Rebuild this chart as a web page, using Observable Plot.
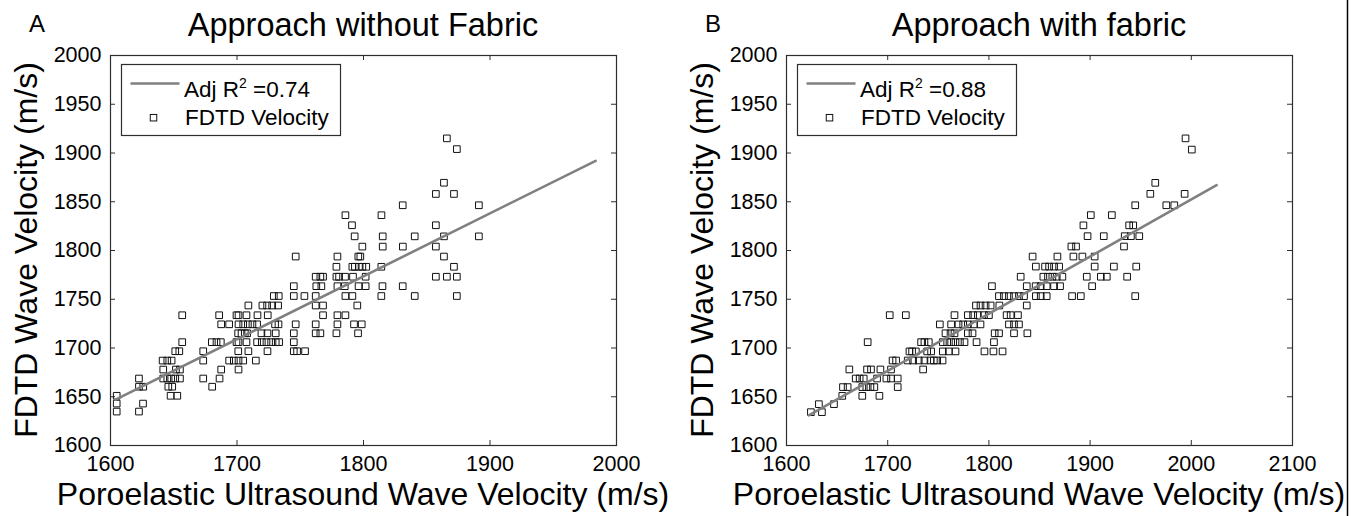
<!DOCTYPE html>
<html><head><meta charset="utf-8">
<script src="https://cdn.jsdelivr.net/npm/d3@7"></script>
<script src="https://cdn.jsdelivr.net/npm/@observablehq/plot@0.6"></script>
<style>
body{margin:0;background:#fff}
#fig{position:relative;width:1368px;height:516px;overflow:hidden;background:#fff}
#fig svg{position:absolute;top:0}
</style></head><body><div id="fig"></div>
<script>
// ---------- data ----------
const yTicks = [1600, 1650, 1700, 1750, 1800, 1850, 1900, 1950, 2000];
const xTicksA = [1600, 1700, 1800, 1900, 2000];
const xTicksB = [1600, 1700, 1800, 1900, 2000, 2100];
const xDomainA = [1600, 2000];
const xDomainB = [1600, 2100];

// Panel A: FDTD velocity rows (y) and the ultrasound velocities (x) in each row
const aRowY = [1915, 1904, 1869.5, 1858, 1846.4, 1836.2, 1825.9, 1814.5, 1804, 1793.8, 1783.3, 1773.1, 1763.4, 1753.3, 1743.6, 1733.6, 1724.3, 1715.1, 1706, 1696.7, 1687.1, 1677.9, 1668.7, 1660.3, 1651, 1643, 1634.8];
const aRowX = [
  [1865.9],
  [1873.8],
  [1863.6],
  [1857.2, 1871.5],
  [1831.0, 1891.2],
  [1785.7, 1814.2],
  [1790.9, 1857.2],
  [1793.0, 1815.2, 1840.5, 1863.6, 1891.2],
  [1799.1, 1815.2, 1831.1, 1857.2],
  [1746.4, 1779.4, 1795.9, 1797.5, 1863.6],
  [1778.6, 1791.2, 1793.2, 1796.4, 1799.1, 1802.2, 1814.1, 1871.5],
  [1762.2, 1765.9, 1768.0, 1778.6, 1780.7, 1785.4, 1791.7, 1801.7, 1857.2, 1865.9, 1873.8],
  [1744.9, 1762.7, 1766.7, 1779.4, 1785.2, 1796.1, 1801.7, 1815.0, 1831.0],
  [1729.1, 1733.0, 1744.9, 1753.3, 1762.2, 1785.7, 1791.2, 1814.1, 1840.5, 1873.8],
  [1709.0, 1720.1, 1723.8, 1727.8, 1732.5, 1762.2, 1768.0, 1795.1],
  [1656.7, 1685.9, 1699.6, 1701.2, 1707.5, 1716.2, 1724.3, 1768.0, 1779.4, 1785.7],
  [1687.5, 1693.8, 1701.2, 1704.9, 1708.6, 1712.2, 1715.9, 1730.1, 1732.8, 1746.4, 1762.2, 1779.4, 1792.5, 1798.6],
  [1700.9, 1703.6, 1706.2, 1708.0, 1719.3, 1724.1, 1730.6, 1744.9, 1762.2, 1765.9, 1778.6, 1795.7],
  [1656.7, 1680.1, 1683.8, 1687.2, 1699.6, 1701.2, 1707.5, 1715.9, 1719.6, 1723.3, 1727.0, 1730.6, 1733.3, 1744.9],
  [1651.2, 1654.4, 1673.3, 1701.0, 1709.0, 1724.1, 1744.9, 1747.5, 1753.8],
  [1641.2, 1644.9, 1648.3, 1673.3, 1693.8, 1697.5, 1701.2, 1704.9, 1714.9],
  [1641.7, 1651.7, 1654.9, 1687.5, 1701.2],
  [1622.5, 1641.7, 1644.9, 1648.0, 1651.2, 1654.9, 1673.3, 1686.2],
  [1622.5, 1625.9, 1645.7, 1648.8, 1680.4],
  [1604.9, 1647.5, 1652.8],
  [1604.9, 1625.7],
  [1604.9, 1622.5]
];
const aFitX = [1604, 1983.5];
const aFitY = [1647, 1892];

// Panel B
const bRowY = [1915, 1903.5, 1869.4, 1858.1, 1846.4, 1836.3, 1825.8, 1814.7, 1804.1, 1793.8, 1783.5, 1773.1, 1763.4, 1753.2, 1743.6, 1733.7, 1724.2, 1715.1, 1706, 1696.5, 1687.2, 1678, 1668.7, 1659.9, 1650.9, 1642.4, 1634.2];
const bRowX = [
  [1994.3],
  [2000.5],
  [1964.4],
  [1959.5, 1993.4],
  [1944.6, 1975.3, 1983.2],
  [1900.7, 1921.5],
  [1893.4, 1938.6, 1942.6],
  [1897.5, 1913.5, 1934.2, 1940.3, 1948.6],
  [1881.5, 1886.1, 1933.5],
  [1843.2, 1867.7, 1883.5, 1892.4, 1904.5],
  [1846.4, 1855.5, 1859.5, 1864.4, 1869.4, 1904.5, 1923.5, 1945.6],
  [1831.4, 1853.8, 1858.4, 1862.7, 1867.0, 1872.6, 1896.7, 1910.6, 1916.5, 1936.6],
  [1803.0, 1837.4, 1846.2, 1851.2, 1857.1, 1864.4, 1870.3, 1902.0],
  [1809.9, 1814.9, 1819.8, 1824.8, 1829.7, 1834.7, 1846.4, 1851.2, 1857.1, 1882.2, 1890.8, 1944.6],
  [1787.2, 1791.7, 1796.7, 1801.7, 1810.3, 1837.4],
  [1702.0, 1717.9, 1766.0, 1779.2, 1784.4, 1789.1, 1795.1, 1800.0, 1817.5, 1821.5, 1828.7],
  [1751.5, 1762.7, 1770.0, 1774.6, 1779.2, 1785.2, 1791.7, 1819.8, 1824.8, 1829.7],
  [1757.1, 1762.1, 1766.0, 1779.2, 1783.8, 1805.7, 1810.0, 1824.8, 1838.0],
  [1680.2, 1733.0, 1736.3, 1740.6, 1754.5, 1758.8, 1762.7, 1767.0, 1771.3, 1775.9, 1787.8, 1805.0],
  [1721.5, 1724.1, 1727.8, 1739.0, 1742.9, 1754.5, 1760.4, 1767.0, 1795.6, 1804.5, 1813.5],
  [1704.8, 1708.3, 1719.8, 1725.1, 1730.7, 1736.3, 1742.3, 1745.6, 1748.9, 1754.2],
  [1662.1, 1679.6, 1683.5, 1692.8, 1703.3, 1735.0],
  [1668.4, 1672.3, 1676.3, 1689.5, 1698.7, 1703.3, 1709.9],
  [1655.8, 1660.4, 1674.9, 1678.9, 1682.9, 1686.8, 1709.9],
  [1655.1, 1674.9, 1691.8],
  [1632.0, 1646.9],
  [1624.1, 1635.0]
];
const bFitX = [1622, 2025];
const bFitY = [1631, 1867];

const titles = ["Approach without Fabric", "Approach with fabric"];
const letters = ["A", "B"];
const legendFit = ["0.74", "0.88"];
const xLabel = "Poroelastic Ultrasound Wave Velocity (m/s)";
const yLabel = "FDTD Wave Velocity (m/s)";

// ---------- build ----------
const FONT = "'Liberation Sans', Arial, Helvetica, sans-serif";
const W = 684, H = 516, ML = 110, MR = 68, MT = 55, MB = 71;
const PW = W - ML - MR, PH = H - MT - MB;
const C = "#2e2e2e";

function points(rowY, rowX) {
  const out = [];
  rowY.forEach((y, i) => rowX[i].forEach(x => out.push({x, y})));
  return out;
}
function fitLine(xs, ys) { return xs.map((x, i) => ({x, y: ys[i]})); }

function panel(pts, fit, xDomain, xTicks) {
  return Plot.plot({
    width: W, height: H,
    marginLeft: ML, marginRight: MR, marginTop: MT, marginBottom: MB,
    style: {fontFamily: FONT, fontSize: "21.5px", color: "#000", background: "transparent", overflow: "visible"},
    x: {domain: xDomain},
    y: {domain: [1600, 2000]},
    marks: [
      Plot.axisX(xTicks, {anchor: "bottom", tickSize: 0, tickPadding: 10, label: null, tickFormat: d => String(d), fontSize: 21.5}),
      Plot.axisY(yTicks, {anchor: "left", tickSize: 0, tickPadding: 9, label: null, tickFormat: d => String(d), fontSize: 21.5}),
      Plot.tickX(xTicks, {x: d => d, insetTop: PH - 5, stroke: C}),
      Plot.tickX(xTicks, {x: d => d, insetBottom: PH - 5, stroke: C}),
      Plot.tickY(yTicks, {y: d => d, insetRight: PW - 5, stroke: C}),
      Plot.tickY(yTicks, {y: d => d, insetLeft: PW - 5, stroke: C}),
      Plot.dot(pts, {x: "x", y: "y", symbol: "square", r: 3.75, stroke: "#111", strokeWidth: 1, fill: "none"}),
      Plot.line(fit, {x: "x", y: "y", stroke: "#808080", strokeWidth: 2.6}),
      Plot.frame({stroke: C, strokeWidth: 1.2})
    ]
  });
}

const fig = document.getElementById("fig");
const offsets = [0, 676];
const svgA = panel(points(aRowY, aRowX), fitLine(aFitX, aFitY), xDomainA, xTicksA);
const svgB = panel(points(bRowY, bRowX), fitLine(bFitX, bFitY), xDomainB, xTicksB);
[svgA, svgB].forEach((s, i) => { s.style.left = offsets[i] + "px"; fig.appendChild(s); });

// ---------- text overlay ----------
const ov = d3.select(fig).append("svg")
  .attr("width", 1368).attr("height", 516)
  .style("left", "0px").style("pointer-events", "none")
  .style("font-family", FONT);

offsets.forEach((off, i) => {
  const cx = off + ML + PW / 2;
  ov.append("text").attr("x", off + 29).attr("y", 31.5).attr("font-size", 24).text(letters[i]);
  ov.append("text").attr("x", cx).attr("y", 36).attr("font-size", 32.5).attr("text-anchor", "middle").text(titles[i]);
  ov.append("text").attr("x", cx).attr("y", 505).attr("font-size", 32).attr("text-anchor", "middle").text(xLabel);
  ov.append("text").attr("transform", `translate(${off + 37},${MT + PH / 2}) rotate(-90)`)
    .attr("font-size", 32).attr("text-anchor", "middle").text(yLabel);

  // legend
  const lx = off + ML + 11.5, ly = 64.5;
  ov.append("rect").attr("x", lx).attr("y", ly).attr("width", 219).attr("height", 71)
    .attr("fill", "#fff").attr("stroke", C).attr("stroke-width", 1.2);
  ov.append("line").attr("x1", lx + 9).attr("x2", lx + 58).attr("y1", 83.5).attr("y2", 83.5)
    .attr("stroke", "#808080").attr("stroke-width", 2.6);
  const t1 = ov.append("text").attr("x", lx + 62.5).attr("y", 96.7).attr("font-size", 22.5);
  t1.append("tspan").text("Adj R");
  t1.append("tspan").attr("dy", -9).attr("font-size", 14).text("2");
  t1.append("tspan").attr("dy", 9).text(" =" + legendFit[i]);
  ov.append("rect").attr("x", lx + 32 - 3.25).attr("y", 117.7 - 3.25).attr("width", 6.5).attr("height", 6.5)
    .attr("fill", "none").attr("stroke", "#111").attr("stroke-width", 1);
  ov.append("text").attr("x", lx + 63.5).attr("y", 125.3).attr("font-size", 22.5).text("FDTD Velocity");
});
ov.append("line").attr("x1", 1347.5).attr("x2", 1347.5).attr("y1", 0).attr("y2", 516)
  .attr("stroke", "#000").attr("stroke-width", 1.5);
</script></body></html>
